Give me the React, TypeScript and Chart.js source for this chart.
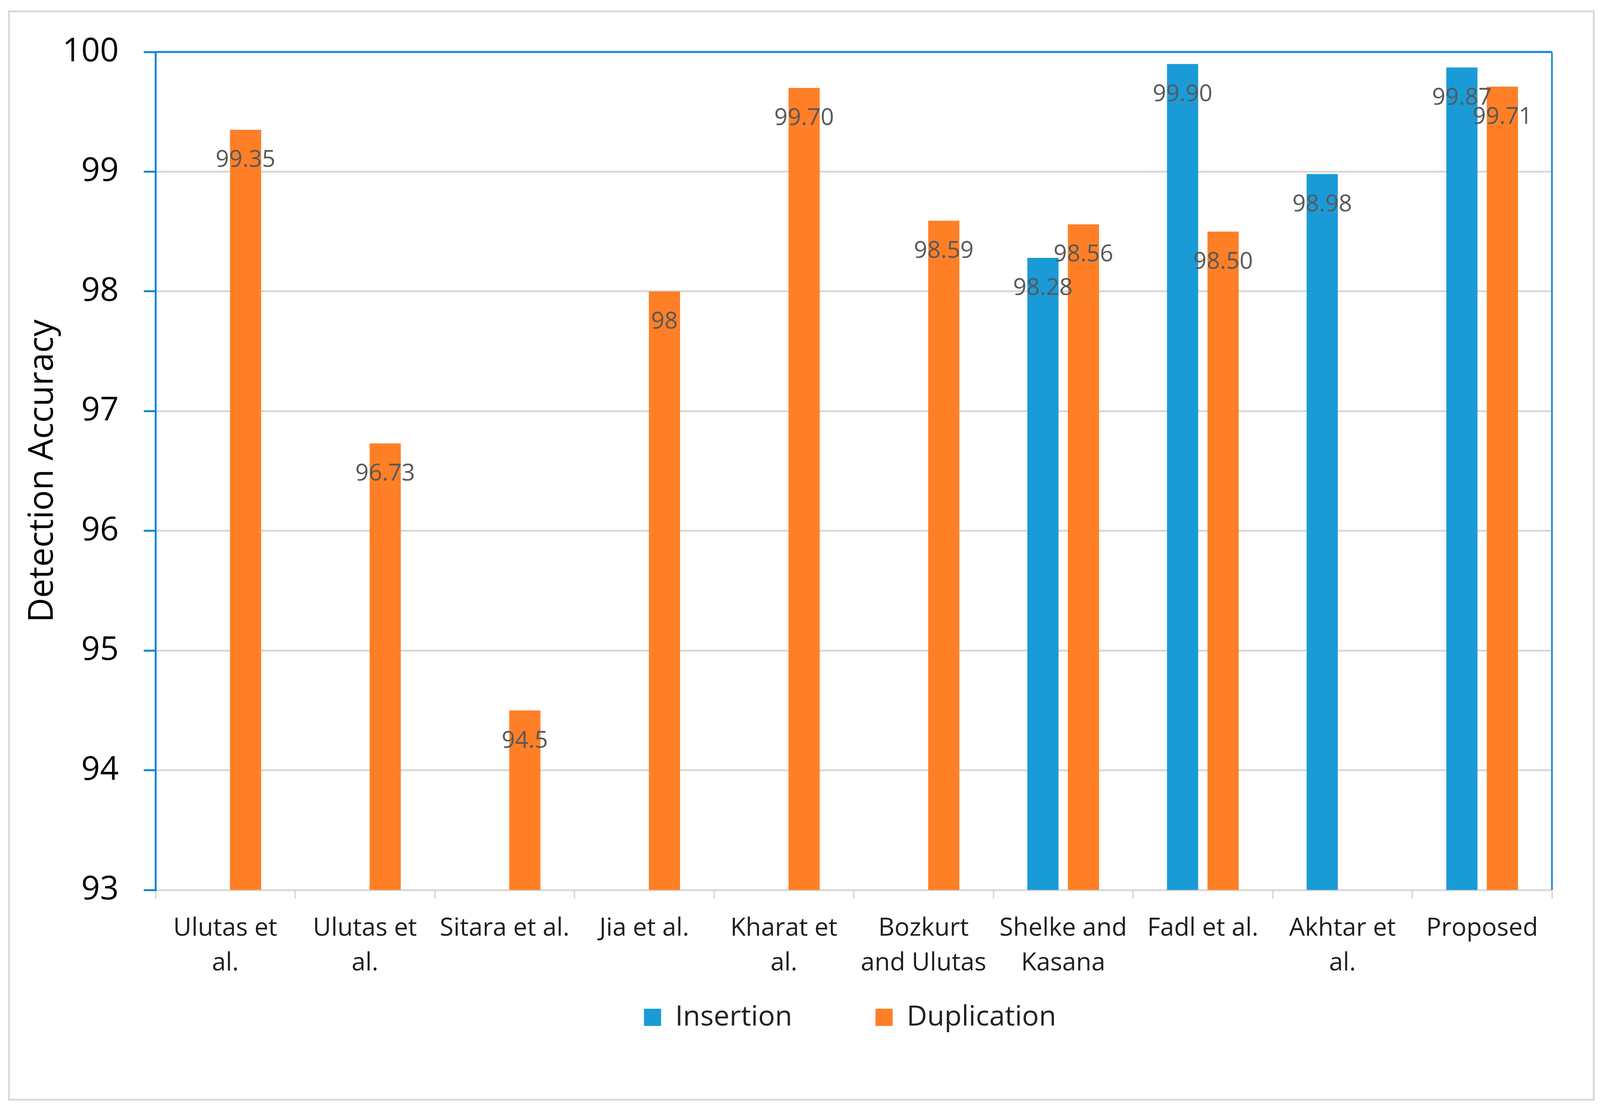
import React, { useEffect, useRef } from 'react';
import { Chart, registerables } from 'chart.js';

Chart.register(...registerables);

const categories: (string | string[])[] = [
  ['Ulutas et', 'al.'],
  ['Ulutas et', 'al.'],
  'Sitara et al.',
  'Jia et al.',
  ['Kharat et', 'al.'],
  ['Bozkurt', 'and Ulutas'],
  ['Shelke and', 'Kasana'],
  'Fadl et al.',
  ['Akhtar et', 'al.'],
  'Proposed',
];

const seriesNames = ['Insertion', 'Duplication'];
const insertionValues = [null, null, null, null, null, null, 98.28, 99.9, 98.98, 99.87];
const duplicationValues = [99.35, 96.73, 94.5, 98, 99.7, 98.59, 98.56, 98.5, null, 99.71];
const insertionLabels = ['', '', '', '', '', '', '98.28', '99.90', '98.98', '99.87'];
const duplicationLabels = ['99.35', '96.73', '94.5', '98', '99.70', '98.59', '98.56', '98.50', '', '99.71'];
const yMin = 93;
const yMax = 100;
const yStep = 1;
const yTitle = 'Detection Accuracy';

const BLUE = '#1a9bd7';
const ORANGE = '#ff7f27';
const AXIS_BLUE = '#1089d3';
const GRID = '#d9d9d9';
const FONT = "'Open Sans', 'Noto Sans', sans-serif";

const frameAndLabelsPlugin = {
  id: 'frameAndLabels',
  beforeDraw(chart: any) {
    const ctx = chart.ctx;
    ctx.save();
    ctx.fillStyle = '#ffffff';
    ctx.fillRect(0, 0, chart.width, chart.height);
    ctx.strokeStyle = GRID;
    ctx.lineWidth = 5;
    ctx.strokeRect(23, 29, 4057, 2786);
    ctx.restore();
  },
  afterDatasetsDraw(chart: any) {
    const ctx = chart.ctx;
    const area = chart.chartArea;
    ctx.save();
    ctx.strokeStyle = AXIS_BLUE;
    ctx.lineWidth = 5;
    ctx.beginPath();
    ctx.moveTo(area.left, area.top);
    ctx.lineTo(area.right, area.top);
    ctx.stroke();
    ctx.lineWidth = 4;
    ctx.beginPath();
    ctx.moveTo(area.right, area.top);
    ctx.lineTo(area.right, area.bottom);
    ctx.stroke();

    const labelSets = [insertionLabels, duplicationLabels];
    ctx.font = `60px ${FONT}`;
    ctx.fillStyle = '#595959';
    ctx.textAlign = 'center';
    ctx.textBaseline = 'middle';
    chart.data.datasets.forEach((ds: any, di: number) => {
      const meta = chart.getDatasetMeta(di);
      meta.data.forEach((el: any, i: number) => {
        const v = ds.data[i];
        if (v === null || v === undefined) return;
        const txt = labelSets[di][i];
        if (!txt) return;
        ctx.fillText(txt, el.x, el.y + 78);
      });
    });
    ctx.restore();
  },
};

export default function App() {
  const canvasRef = useRef<HTMLCanvasElement | null>(null);

  useEffect(() => {
    if (!canvasRef.current) return;
    const chart = new Chart(canvasRef.current, {
      type: 'bar',
      data: {
        labels: categories,
        datasets: [
          {
            label: seriesNames[0],
            data: insertionValues,
            backgroundColor: BLUE,
            borderWidth: 0,
            categoryPercentage: 0.58,
            barPercentage: 0.77,
          },
          {
            label: seriesNames[1],
            data: duplicationValues,
            backgroundColor: ORANGE,
            borderWidth: 0,
            categoryPercentage: 0.58,
            barPercentage: 0.77,
          },
        ],
      } as any,
      options: {
        animation: false,
        responsive: true,
        maintainAspectRatio: false,
        devicePixelRatio: 1,
        layout: { padding: { left: 0, top: 133, right: 138, bottom: 204 } },
        plugins: {
          tooltip: { enabled: false },
          legend: {
            display: true,
            position: 'bottom',
            fullSize: false,
            labels: {
              boxWidth: 44,
              boxHeight: 44,
              padding: 26,
              color: '#222222',
              font: { family: FONT, size: 72 },
              generateLabels: (c: any) => {
                const items = (Chart.defaults.plugins.legend.labels as any).generateLabels(c);
                if (items[0]) items[0].text = items[0].text + '          ';
                if (items[1]) items[1].text = items[1].text + ' ';
                return items;
              },
            },
          },
        },
        scales: {
          x: {
            grid: {
              display: true,
              drawOnChartArea: false,
              drawTicks: true,
              tickLength: 22,
              tickColor: GRID,
              tickWidth: 4,
            },
            border: { display: true, color: GRID, width: 5 },
            ticks: {
              autoSkip: false,
              maxRotation: 0,
              minRotation: 0,
              padding: 32,
              color: '#1f1f1f',
              font: { family: FONT, size: 64, lineHeight: 1.39 },
            },
          },
          y: {
            min: yMin,
            max: yMax,
            afterFit: (scale: any) => {
              scale.width = 398;
            },
            ticks: {
              stepSize: yStep,
              padding: 64,
              color: '#000000',
              font: { family: FONT, size: 84 },
            },
            grid: {
              color: GRID,
              lineWidth: 5,
              tickColor: AXIS_BLUE,
              tickLength: 30,
              tickWidth: 5,
            },
            border: { display: true, color: AXIS_BLUE, width: 5 },
            title: {
              display: true,
              text: yTitle,
              color: '#000000',
              font: { family: FONT, size: 87 },
              padding: { top: 58, bottom: 0 },
            },
          },
        },
      } as any,
      plugins: [frameAndLabelsPlugin],
    });
    return () => chart.destroy();
  }, []);

  return (
    <div style={{ position: 'absolute', left: 0, top: 0, width: '4111px', height: '2854px', background: '#fff' }}>
      <canvas ref={canvasRef} />
    </div>
  );
}
